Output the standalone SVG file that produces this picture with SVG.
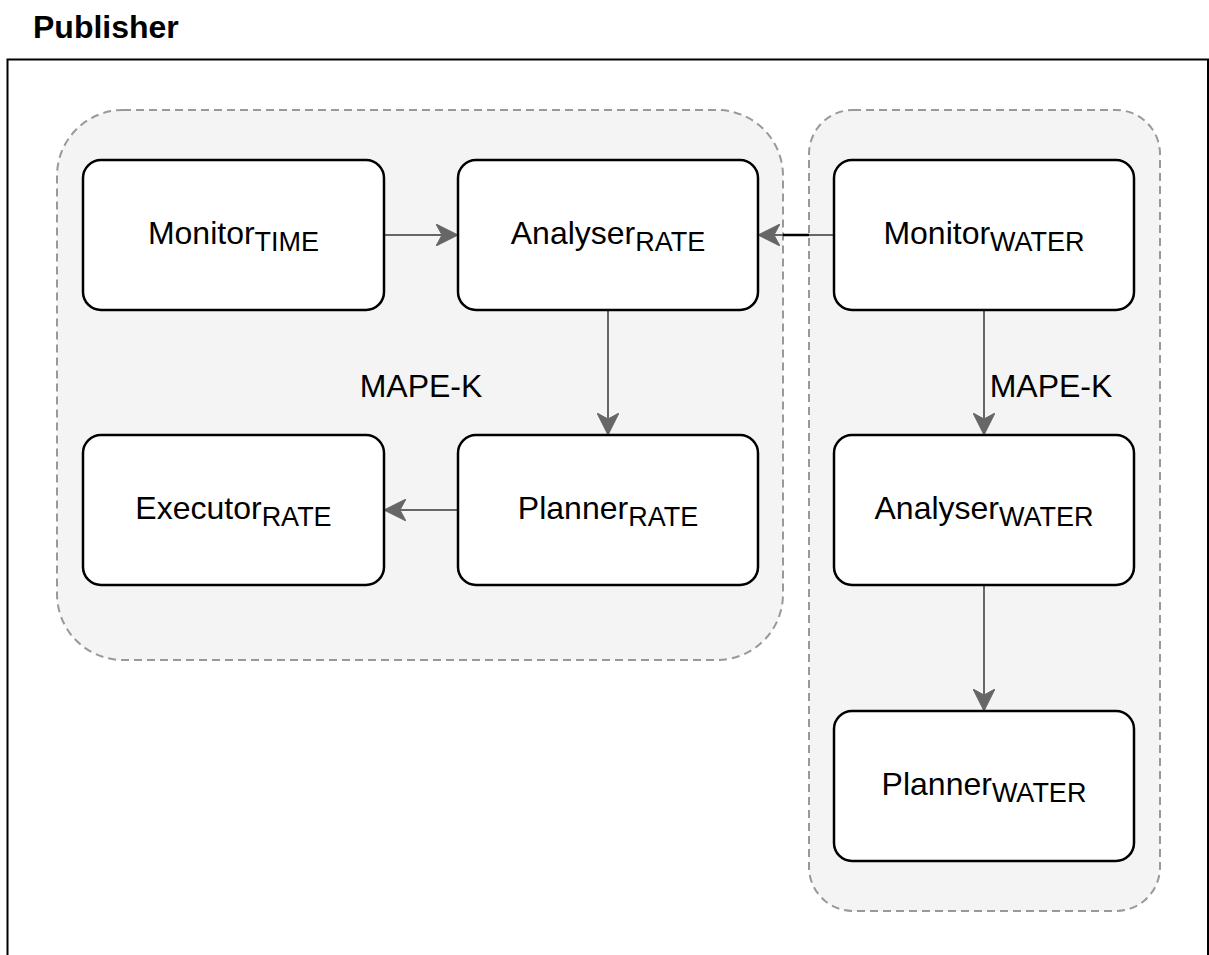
<svg xmlns="http://www.w3.org/2000/svg" width="1209" height="955" viewBox="0 0 1209 955">
  <defs>
    <style>
      .frame { fill: #ffffff; stroke: #000000; stroke-width: 2; }
      .container { fill: #f4f4f4; stroke: #999999; stroke-width: 2; stroke-dasharray: 8 5; }
      .node { fill: #ffffff; stroke: #000000; stroke-width: 2.5; }
      .label { font-family: "Liberation Sans", Arial, sans-serif; font-size: 32px; fill: #000000; text-anchor: middle; }
      .sub { font-size: 27px; }
      .title { font-family: "Liberation Sans", Arial, sans-serif; font-size: 32px; font-weight: bold; fill: #000000; }
      .edge { fill: none; stroke: #666666; stroke-width: 2; }
    </style>
    <marker id="arrow" viewBox="0 0 22 22" refX="21" refY="11" markerWidth="22" markerHeight="22" markerUnits="userSpaceOnUse" orient="auto">
      <path d="M0,0 L22,11 L0,22 L6,11 Z" fill="#666666" stroke="#666666" stroke-width="1"/>
    </marker>
  </defs>

  <rect width="1209" height="955" fill="#ffffff"/>

  <g id="publisher">
    <text class="title" x="33" y="38">Publisher</text>
    <rect class="frame" x="7.5" y="59.5" width="1200.5" height="1000"/>
  </g>

  <g id="container-rate">
    <rect class="container" x="57" y="110" width="726" height="550" rx="66" ry="66"/>
    <text class="label" x="421" y="397">MAPE-K</text>
  </g>

  <g id="container-water">
    <rect class="container" x="809" y="110" width="351" height="801" rx="44" ry="44"/>
    <text class="label" x="1051" y="397">MAPE-K</text>
  </g>

  <g id="connectors">
    <line class="edge" x1="384" y1="235" x2="457" y2="235" marker-end="url(#arrow)"/>
    <line class="edge" x1="834" y1="235" x2="759" y2="235" marker-end="url(#arrow)"/>
    <line x1="783" y1="235" x2="809" y2="235" stroke="#000000" stroke-width="2.5"/>
    <line class="edge" x1="608" y1="310" x2="608" y2="434" marker-end="url(#arrow)"/>
    <line class="edge" x1="458" y1="510" x2="385" y2="510" marker-end="url(#arrow)"/>
    <line class="edge" x1="984" y1="310" x2="984" y2="434" marker-end="url(#arrow)"/>
    <line class="edge" x1="984" y1="585" x2="984" y2="710" marker-end="url(#arrow)"/>
  </g>

  <g id="monitor-time">
    <rect class="node" x="83" y="160" width="301" height="150" rx="18" ry="18"/>
    <text class="label" x="233.5" y="244">Monitor<tspan class="sub" dy="7">TIME</tspan></text>
  </g>

  <g id="analyser-rate">
    <rect class="node" x="458" y="160" width="300" height="150" rx="18" ry="18"/>
    <text class="label" x="608" y="244">Analyser<tspan class="sub" dy="7">RATE</tspan></text>
  </g>

  <g id="monitor-water">
    <rect class="node" x="834" y="160" width="300" height="150" rx="18" ry="18"/>
    <text class="label" x="984" y="244">Monitor<tspan class="sub" dy="7">WATER</tspan></text>
  </g>

  <g id="executor-rate">
    <rect class="node" x="83" y="435" width="301" height="150" rx="18" ry="18"/>
    <text class="label" x="233.5" y="519">Executor<tspan class="sub" dy="7">RATE</tspan></text>
  </g>

  <g id="planner-rate">
    <rect class="node" x="458" y="435" width="300" height="150" rx="18" ry="18"/>
    <text class="label" x="608" y="519">Planner<tspan class="sub" dy="7">RATE</tspan></text>
  </g>

  <g id="analyser-water">
    <rect class="node" x="834" y="435" width="300" height="150" rx="18" ry="18"/>
    <text class="label" x="984" y="519">Analyser<tspan class="sub" dy="7">WATER</tspan></text>
  </g>

  <g id="planner-water">
    <rect class="node" x="834" y="711" width="300" height="150" rx="18" ry="18"/>
    <text class="label" x="984" y="795">Planner<tspan class="sub" dy="7">WATER</tspan></text>
  </g>
</svg>
